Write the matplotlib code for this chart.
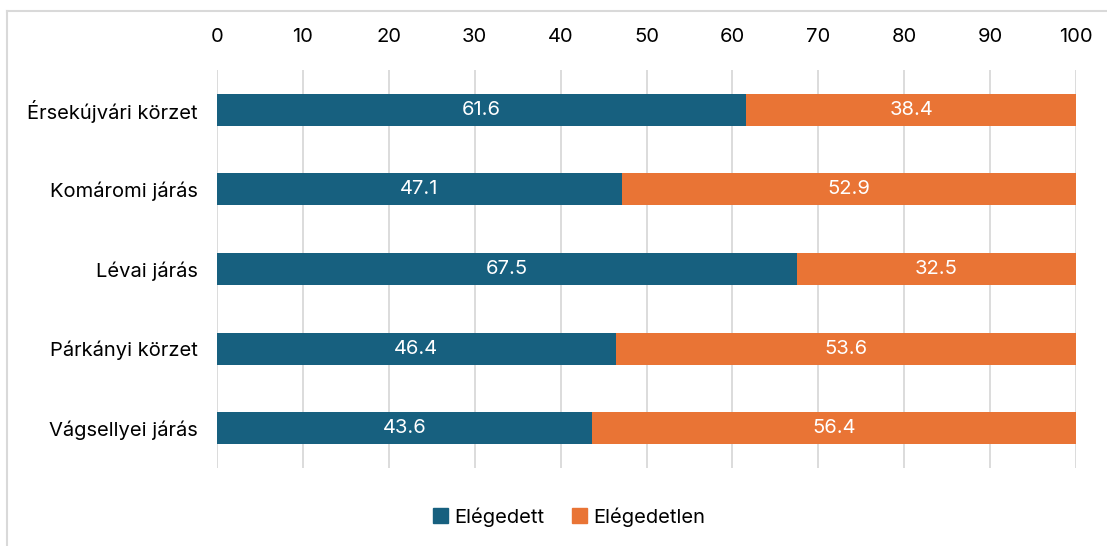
import matplotlib.pyplot as plt
from matplotlib.lines import Line2D
from matplotlib.patches import Patch

plt.rcParams['font.family'] = ['Inter', 'DejaVu Sans']

regions = ["Érsekújvári körzet", "Komáromi járás", "Lévai járás",
           "Párkányi körzet", "Vágsellyei járás"]
satisfied = [61.6, 47.1, 67.5, 46.4, 43.6]
unsatisfied = [38.4, 52.9, 32.5, 53.6, 56.4]
series_names = ["Elégedett", "Elégedetlen"]
ticks = [0, 10, 20, 30, 40, 50, 60, 70, 80, 90, 100]

BLUE = "#17607F"
ORANGE = "#E97435"
GRID = "#D9D9D9"
FS = 14.5

fig = plt.figure(figsize=(11.07, 5.46), dpi=100)
ax = fig.add_axes([217 / 1107, 1 - 468 / 546, (1076 - 217) / 1107, (468 - 70) / 546])

y = list(range(len(regions)))
ax.barh(y, satisfied, height=0.4, color=BLUE, zorder=3)
ax.barh(y, unsatisfied, left=satisfied, height=0.4, color=ORANGE, zorder=3)
for vals, lefts in [(satisfied, [0] * 5), (unsatisfied, satisfied)]:
    for yi, v, l in zip(y, vals, lefts):
        ax.text(l + v / 2, yi, f"{v:.1f}", ha="center", va="center",
                color="white", fontsize=FS, zorder=4)

ax.set_xlim(0, 100)
ax.set_ylim(4.5, -0.5)
ax.set_yticks(y)
ax.set_yticklabels(regions, fontsize=FS)
ax.set_xticks(ticks)
ax.xaxis.tick_top()
ax.tick_params(axis="x", labelsize=FS, length=0, pad=17)
ax.tick_params(axis="y", length=0, pad=14)
ax.grid(axis="x", color=GRID, lw=1.3, zorder=0)
for s in ax.spines.values():
    s.set_visible(False)

# outer frame (only left and top visible in the crop)
fig.add_artist(Line2D([7 / 1107, 7 / 1107], [0, 1 - 11 / 546], color=GRID, lw=1.5))
fig.add_artist(Line2D([7 / 1107, 1], [1 - 11 / 546, 1 - 11 / 546], color=GRID, lw=1.5))

handles = [Patch(color=BLUE), Patch(color=ORANGE)]
fig.legend(handles, series_names, loc="center", bbox_to_anchor=(569 / 1107, 1 - 517 / 546),
           ncol=2, frameon=False, fontsize=FS, handlelength=0.75, handleheight=0.75,
           handletextpad=0.3, columnspacing=1.4)

fig.savefig("out.png", dpi=100)
